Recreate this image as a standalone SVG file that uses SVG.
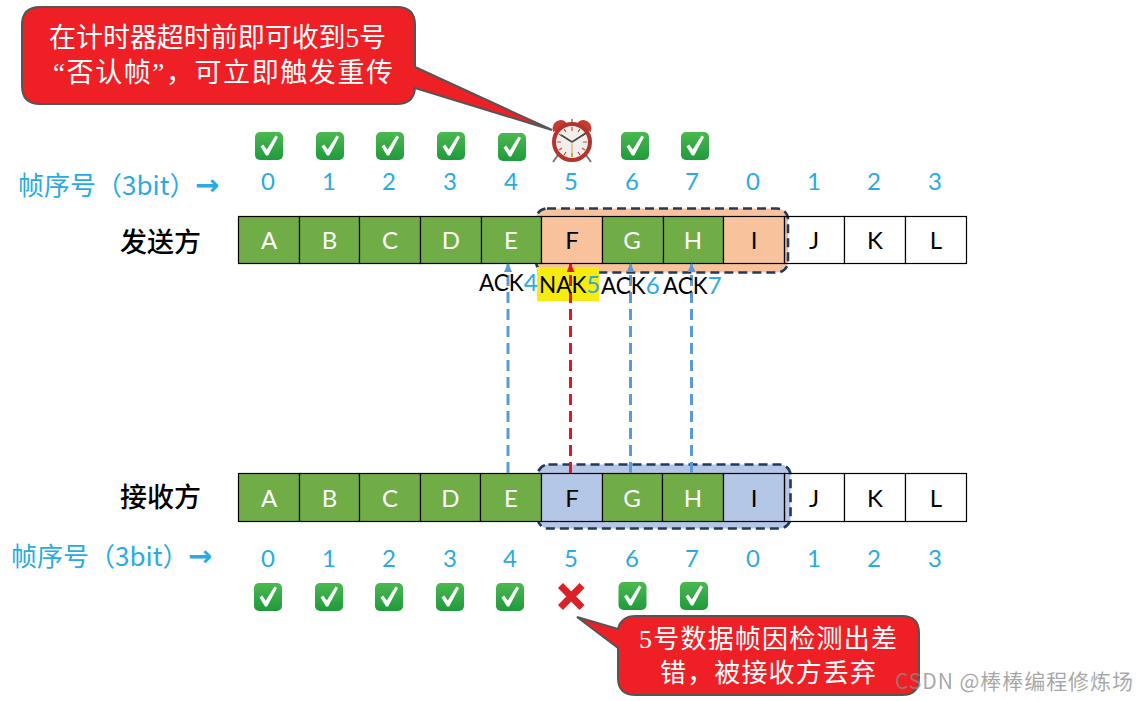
<svg xmlns="http://www.w3.org/2000/svg" width="1136" height="701" viewBox="0 0 1136 701">
<style>
.g{fill:#70ad47}.o{fill:#f8c39c}.b{fill:#b4c7e7}.w{fill:#fff}
.cell{stroke:#000;stroke-width:1.2}
.lw{font:24px Lato,"Open Sans",sans-serif;fill:#fff;text-anchor:middle}
.lk{font:24px Lato,"Open Sans",sans-serif;fill:#000;text-anchor:middle}
.n{font:24px Lato,"Open Sans",sans-serif;fill:#29abe2;text-anchor:middle}
.ack{font:22.500px Lato,"Open Sans",sans-serif;fill:#000}
.ack tspan{fill:#29abe2;font-size:24px}
.head{font:26px "Noto Sans CJK SC","Noto Sans",sans-serif;fill:#29abe2}
.who{font:500 27px "Noto Sans CJK SC",sans-serif;fill:#000}
.call{font:27px "Liberation Serif","Noto Sans CJK SC",serif;fill:#fff}
.win{stroke:#203a5c;stroke-width:2.6;stroke-dasharray:9 5}
.conn{fill:none;stroke-width:3;stroke-dasharray:11 6}
.bubble{fill:#ef1f26;stroke:#555;stroke-width:2}
.arrow{font:bold 29px "DejaVu Sans",sans-serif;fill:#29abe2}
</style>
<defs>
<linearGradient id="cg" x1="0" y1="0" x2="0" y2="1"><stop offset="0" stop-color="#4bb950"/><stop offset="1" stop-color="#1f9a3c"/></linearGradient>
<g id="chk"><rect x="-14" y="-14" width="28" height="28" rx="5" fill="url(#cg)"/><path d="M-8.500 0.500L-5.800-1.500L-2.200 3.500L6.500-10.500L9-9L-0.800 9.500H-3Z" fill="#fff"/></g>
<marker id="ab" markerWidth="10" markerHeight="9" refX="8" refY="4" orient="auto" markerUnits="userSpaceOnUse"><path d="M0 0L9 4L0 8z" fill="#5b9bd5"/></marker>
<marker id="ar" markerWidth="10" markerHeight="9" refX="8" refY="4" orient="auto" markerUnits="userSpaceOnUse"><path d="M0 0L9 4L0 8z" fill="#e8141c"/></marker>
</defs>
<rect width="1136" height="701" fill="#fff"/>

<g id="callout-top">
<path class="bubble" d="M40 7H397Q415 7 415 25V67L552 130L415 88Q414 104 397 104H40Q22 104 22 86V25Q22 7 40 7Z"/>
<text class="call" x="49" y="47" textLength="337">在计时器超时前即可收到5号</text>
<text class="call" x="53" y="82" textLength="340">“否认帧”，可立即触发重传</text>
</g>

<g id="checks-top">
<use href="#chk" x="269" y="146"/><use href="#chk" x="330" y="146"/><use href="#chk" x="390" y="146"/><use href="#chk" x="451" y="146"/><use href="#chk" x="512" y="147"/><use href="#chk" x="635" y="146"/><use href="#chk" x="695" y="146"/>
</g>
<g id="clock">
<path d="M553 132Q551 122 560 120Q566 120 567 125ZM591 132Q593 122 584 120Q578 120 577 125Z" fill="#c63a30"/>
<path d="M572 119v5" stroke="#999" stroke-width="2"/>
<path d="M558 155l-5 7M586 155l5 7" stroke="#777" stroke-width="2"/>
<circle cx="572" cy="142" r="18" fill="#f1eeec" stroke="#b3342c" stroke-width="4"/>
<path d="M572 127v4M572 153v4M557 142h4M583 142h4M564 129l2 3M580 129l-2 3M564 155l2-3M580 155l-2-3M559 134l3 2M585 134l-3 2M559 150l3-2M585 150l-3-2" stroke="#c8473d" stroke-width="1.200"/>
<path d="M572 142L561 135M572 142L586 133" stroke="#444" stroke-width="1.500"/><path d="M572 142V157" stroke="#c9a84a" stroke-width="1"/>
</g>

<g id="seq-top">
<text class="head" x="18" y="195">帧序号（3bit）</text>
<text class="arrow" x="195" y="195">→</text>
<text class="n" x="268" y="190">0</text><text class="n" x="329" y="190">1</text><text class="n" x="389" y="190">2</text><text class="n" x="450" y="190">3</text><text class="n" x="511" y="190">4</text><text class="n" x="571" y="190">5</text><text class="n" x="632" y="190">6</text><text class="n" x="692" y="190">7</text><text class="n" x="753" y="190">0</text><text class="n" x="814" y="190">1</text><text class="n" x="874" y="190">2</text><text class="n" x="935" y="190">3</text>
</g>

<g id="window-top"><rect class="win o" x="536" y="208.500" width="252" height="64" rx="11"/></g>
<text class="who" x="120" y="252">发送方</text>

<g id="s-A"><rect class="cell g" x="238.500" y="216.500" width="61" height="47"/><text class="lw" x="269" y="249">A</text></g>
<g id="s-B"><rect class="cell g" x="299.500" y="216.500" width="60" height="47"/><text class="lw" x="329.500" y="249">B</text></g>
<g id="s-C"><rect class="cell g" x="359.500" y="216.500" width="61" height="47"/><text class="lw" x="390" y="249">C</text></g>
<g id="s-D"><rect class="cell g" x="420.500" y="216.500" width="61" height="47"/><text class="lw" x="451" y="249">D</text></g>
<g id="s-E"><rect class="cell g" x="481.500" y="216.500" width="60" height="47"/><text class="lw" x="511" y="249">E</text></g>
<g id="s-F"><rect class="cell o" x="541.500" y="216.500" width="61" height="47"/><text class="lk" x="572" y="249">F</text></g>
<g id="s-G"><rect class="cell g" x="602.500" y="216.500" width="61" height="47"/><text class="lw" x="632" y="249">G</text></g>
<g id="s-H"><rect class="cell g" x="663.500" y="216.500" width="60" height="47"/><text class="lw" x="693" y="249">H</text></g>
<g id="s-I"><rect class="cell o" x="723.500" y="216.500" width="61" height="47"/><text class="lk" x="754" y="249">I</text></g>
<g id="s-J"><rect class="cell w" x="784.500" y="216.500" width="60" height="47" fill-opacity="0"/><text class="lk" x="814" y="249">J</text></g>
<g id="s-K"><rect class="cell w" x="844.500" y="216.500" width="61" height="47"/><text class="lk" x="875" y="249">K</text></g>
<g id="s-L"><rect class="cell w" x="905.500" y="216.500" width="61" height="47"/><text class="lk" x="936" y="249">L</text></g>

<g id="window-bottom"><rect class="win b" x="537.500" y="464.500" width="253" height="64" rx="11"/></g>
<text class="who" x="120" y="507">接收方</text>

<g id="r-A"><rect class="cell g" x="238.500" y="473.500" width="61" height="48"/><text class="lw" x="269" y="507">A</text></g>
<g id="r-B"><rect class="cell g" x="299.500" y="473.500" width="60" height="48"/><text class="lw" x="329.500" y="507">B</text></g>
<g id="r-C"><rect class="cell g" x="359.500" y="473.500" width="61" height="48"/><text class="lw" x="390" y="507">C</text></g>
<g id="r-D"><rect class="cell g" x="420.500" y="473.500" width="60" height="48"/><text class="lw" x="450.500" y="507">D</text></g>
<g id="r-E"><rect class="cell g" x="480.500" y="473.500" width="61" height="48"/><text class="lw" x="511" y="507">E</text></g>
<g id="r-F"><rect class="cell b" x="541.500" y="473.500" width="61" height="48"/><text class="lk" x="572" y="507">F</text></g>
<g id="r-G"><rect class="cell g" x="602.500" y="473.500" width="60" height="48"/><text class="lw" x="632" y="507">G</text></g>
<g id="r-H"><rect class="cell g" x="662.500" y="473.500" width="61" height="48"/><text class="lw" x="693" y="507">H</text></g>
<g id="r-I"><rect class="cell b" x="723.500" y="473.500" width="61" height="48"/><text class="lk" x="754" y="507">I</text></g>
<g id="r-J"><rect class="cell w" x="784.500" y="473.500" width="60" height="48" fill-opacity="0"/><text class="lk" x="814" y="507">J</text></g>
<g id="r-K"><rect class="cell w" x="844.500" y="473.500" width="61" height="48"/><text class="lk" x="875" y="507">K</text></g>
<g id="r-L"><rect class="cell w" x="905.500" y="473.500" width="61" height="48"/><text class="lk" x="936" y="507">L</text></g>

<rect id="nak-bg" x="537" y="267" width="62" height="34" fill="#f7ec0f"/>
<g id="connectors">
<path class="conn" stroke="#5b9bd5" d="M508 473V264" marker-end="url(#ab)"/>
<path class="conn" stroke="#e8141c" d="M570.500 473V264" marker-end="url(#ar)"/>
<path class="conn" stroke="#5b9bd5" d="M630.500 473V264" marker-end="url(#ab)"/>
<path class="conn" stroke="#5b9bd5" d="M691.500 473V264" marker-end="url(#ab)"/>
</g>
<g id="acks">
<text class="ack" x="479" y="291">ACK<tspan>4</tspan></text>
<text class="ack" x="539" y="293">NAK<tspan>5</tspan></text>
<text class="ack" x="601" y="294">ACK<tspan>6</tspan></text>
<text class="ack" x="663" y="294">ACK<tspan>7</tspan></text>
</g>

<g id="seq-bottom">
<text class="head" x="11" y="566">帧序号（3bit）</text>
<text class="arrow" x="188" y="566">→</text>
<text class="n" x="268" y="567">0</text><text class="n" x="329" y="567">1</text><text class="n" x="389" y="567">2</text><text class="n" x="450" y="567">3</text><text class="n" x="510" y="567">4</text><text class="n" x="571" y="567">5</text><text class="n" x="632" y="567">6</text><text class="n" x="692" y="567">7</text><text class="n" x="753" y="567">0</text><text class="n" x="814" y="567">1</text><text class="n" x="874" y="567">2</text><text class="n" x="935" y="567">3</text>
</g>
<g id="checks-bottom">
<use href="#chk" x="268" y="597"/><use href="#chk" x="329" y="597"/><use href="#chk" x="389" y="597"/><use href="#chk" x="450" y="597"/><use href="#chk" x="510" y="597"/><use href="#chk" x="632.500" y="596"/><use href="#chk" x="694" y="596"/>
</g>
<g id="cross"><path d="M560.500 585.500L582 607.500M582 585.500L560.500 607.500" stroke="#dd2027" stroke-width="7" fill="none"/></g>

<g id="callout-bottom">
<path class="bubble" d="M636 616H902Q919 616 919 633V678Q919 695 902 695H636Q618 695 618 678V648L577 617L618 629Q621 616 636 616Z"/>
<text class="call" x="639" y="648" textLength="258" style="font-size:26px">5号数据帧因检测出差</text>
<text class="call" x="660" y="682" textLength="216" style="font-size:26px">错，被接收方丢弃</text>
</g>
<text id="watermark" x="895" y="689" textLength="238" style="font:21px 'Noto Sans CJK SC','Noto Sans',sans-serif;fill:#8a8a8a;fill-opacity:.75">CSDN @棒棒编程修炼场</text>
</svg>
